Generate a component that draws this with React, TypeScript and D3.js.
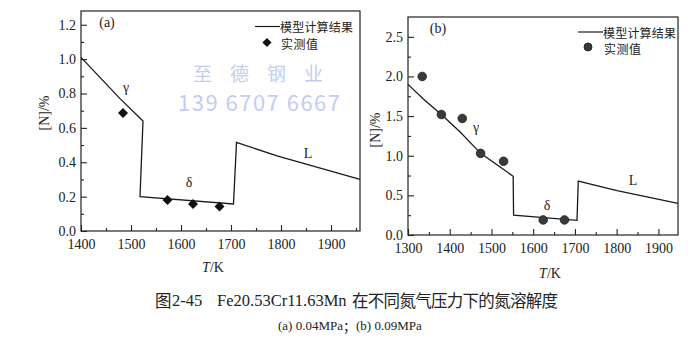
import * as d3 from "d3";
import React, { useRef, useEffect } from "react";

// (a) 0.04 MPa - model curve and measured points
const tempA = [1400, 1478, 1524, 1518, 1705, 1711, 1792, 1958];
const calcA = [1.01, 0.77, 0.64, 0.2, 0.157, 0.515, 0.437, 0.3];
const measTempA = [1484, 1573, 1624, 1677];
const measA = [0.686, 0.18, 0.157, 0.142];
const xTicksA = [1400, 1500, 1600, 1700, 1800, 1900];
const yTicksA = [0, 0.2, 0.4, 0.6, 0.8, 1.0, 1.2];

// (b) 0.09 MPa
const tempB = [1300, 1340, 1380, 1425, 1474, 1531, 1552, 1553, 1705, 1708, 1801, 1947];
const calcB = [1.9, 1.7, 1.52, 1.3, 1.03, 0.82, 0.74, 0.25, 0.185, 0.68, 0.56, 0.4];
const measTempB = [1334, 1380, 1430, 1474, 1529, 1624, 1675];
const measB = [2.0, 1.52, 1.47, 1.03, 0.93, 0.19, 0.19];
const xTicksB = [1300, 1400, 1500, 1600, 1700, 1800, 1900];
const yTicksB = [0, 0.5, 1.0, 1.5, 2.0, 2.5];

const legendLine = "模型计算结果";
const legendPoint = "实测值";

const serif = "'Liberation Serif', 'Times New Roman', serif";
const cjk = "'Noto Sans CJK SC', sans-serif";

const drawPanel = (svg, p) => {
  const g = svg.append("g");
  const x = d3.scaleLinear().domain(p.xDomain).range(p.xRange);
  const y = d3.scaleLinear().domain(p.yDomain).range(p.yRange);
  const [x0, x1] = p.xRange;
  const [y0, y1] = p.yRange;

  // frame
  g.append("rect")
    .attr("x", x0)
    .attr("y", y1)
    .attr("width", x1 - x0)
    .attr("height", y0 - y1)
    .attr("fill", "none")
    .attr("stroke", "#222")
    .attr("stroke-width", 1.2);

  // ticks point inward
  const styleAxis = (sel) => {
    sel.attr("font-family", serif).attr("font-size", 14);
    sel.select(".domain").remove();
    sel.selectAll(".tick line").attr("stroke", "#222").attr("stroke-width", 1.1);
    sel.selectAll("text").attr("fill", "#222");
  };

  g.append("g")
    .attr("transform", `translate(0,${y0})`)
    .call(d3.axisBottom(x).tickValues(p.xMinor).tickSize(-3).tickFormat(() => ""))
    .call(styleAxis);
  g.append("g")
    .attr("transform", `translate(0,${y0})`)
    .call(d3.axisBottom(x).tickValues(p.xTicks).tickSize(-6).tickPadding(8).tickFormat(d3.format("d")))
    .call(styleAxis);
  g.append("g")
    .attr("transform", `translate(${x0},0)`)
    .call(d3.axisLeft(y).tickValues(p.yMinor).tickSize(-3).tickFormat(() => ""))
    .call(styleAxis);
  g.append("g")
    .attr("transform", `translate(${x0},0)`)
    .call(d3.axisLeft(y).tickValues(p.yTicks).tickSize(-6).tickPadding(5).tickFormat(d3.format(".1f")))
    .call(styleAxis);

  // model line
  const pts = p.temps.map((t, i) => [t, p.calc[i]]);
  g.append("path")
    .datum(pts)
    .attr("d", d3.line().x((d) => x(d[0])).y((d) => y(d[1])))
    .attr("fill", "none")
    .attr("stroke", "#1a1a1a")
    .attr("stroke-width", 1.3);

  // measured points
  const meas = p.measTemps.map((t, i) => [t, p.meas[i]]);
  if (p.marker === "diamond") {
    g.selectAll(".pt")
      .data(meas)
      .enter()
      .append("path")
      .attr("d", d3.symbol(d3.symbolSquare, 50)())
      .attr("transform", (d) => `translate(${x(d[0])},${y(d[1])}) rotate(45)`)
      .attr("fill", "#111");
  } else {
    g.selectAll(".pt")
      .data(meas)
      .enter()
      .append("circle")
      .attr("cx", (d) => x(d[0]))
      .attr("cy", (d) => y(d[1]))
      .attr("r", 4.3)
      .attr("fill", "#3a3a3a")
      .attr("stroke", "#1a1a1a")
      .attr("stroke-width", 0.8);
  }

  const label = (tx, ty, s, size = 14) =>
    g.append("text")
      .attr("x", tx)
      .attr("y", ty)
      .attr("text-anchor", "middle")
      .attr("dominant-baseline", "central")
      .attr("font-family", serif)
      .attr("font-size", size)
      .attr("fill", "#222")
      .text(s);

  label(p.tag[0], p.tag[1], p.tag[2]);
  p.phases.forEach((ph) => label(ph[0], ph[1], ph[2], 14));

  // axis titles
  g.append("text")
    .attr("transform", `translate(${p.yTitle[0]},${p.yTitle[1]}) rotate(-90)`)
    .attr("text-anchor", "middle")
    .attr("dominant-baseline", "central")
    .attr("font-family", serif)
    .attr("font-size", 14)
    .attr("fill", "#222")
    .text("[N]/%");
  const xt = g.append("text")
    .attr("x", p.xTitle[0])
    .attr("y", p.xTitle[1])
    .attr("text-anchor", "middle")
    .attr("dominant-baseline", "central")
    .attr("font-family", serif)
    .attr("font-size", 14)
    .attr("fill", "#222");
  xt.append("tspan").attr("font-style", "italic").text("T");
  xt.append("tspan").text("/K");

  // legend
  const lg = p.legend;
  g.append("line")
    .attr("x1", lg.x)
    .attr("x2", lg.x + 25)
    .attr("y1", lg.y)
    .attr("y2", lg.y)
    .attr("stroke", "#1a1a1a")
    .attr("stroke-width", 1.2);
  g.append("text")
    .attr("x", lg.x + 25)
    .attr("y", lg.y)
    .attr("dominant-baseline", "central")
    .attr("font-family", cjk)
    .attr("font-size", 12)
    .attr("textLength", 73)
    .attr("fill", "#222")
    .text(legendLine);
  if (p.marker === "diamond") {
    g.append("path")
      .attr("d", d3.symbol(d3.symbolSquare, 42)())
      .attr("transform", `translate(${lg.x + 12},${lg.y + 16}) rotate(45)`)
      .attr("fill", "#111");
  } else {
    g.append("circle")
      .attr("cx", lg.x + 10)
      .attr("cy", lg.y + 15)
      .attr("r", 4)
      .attr("fill", "#3a3a3a")
      .attr("stroke", "#1a1a1a")
      .attr("stroke-width", 0.8);
  }
  g.append("text")
    .attr("x", lg.x + 26)
    .attr("y", lg.y + 16.5)
    .attr("dominant-baseline", "central")
    .attr("font-family", cjk)
    .attr("font-size", 12)
    .attr("textLength", 37)
    .attr("fill", "#222")
    .text(legendPoint);
};

const App = () => {
  const svgRef = useRef(null);

  useEffect(() => {
    const svg = d3.select(svgRef.current);
    svg.selectAll("*").remove();

    svg.append("rect").attr("width", 700).attr("height", 361).attr("fill", "#fff");

    // watermark sits behind the plots
    svg.append("text")
      .attr("x", 193)
      .attr("y", 72)
      .attr("dominant-baseline", "central")
      .attr("font-family", cjk)
      .attr("font-size", 19)
      .attr("textLength", 130)
      .attr("fill", "#c3cdf0")
      .text("至 德 钢 业");
    svg.append("text")
      .attr("x", 178)
      .attr("y", 101)
      .attr("dominant-baseline", "central")
      .attr("font-family", cjk)
      .attr("font-size", 22)
      .attr("textLength", 162)
      .attr("fill", "#c3cdf0")
      .text("139 6707 6667");

    drawPanel(svg, {
      xDomain: [1400, 1958],
      xRange: [81, 360],
      yDomain: [0, 1.28],
      yRange: [231, 11],
      xTicks: xTicksA,
      yTicks: yTicksA,
      xMinor: d3.range(1450, 1958, 100),
      yMinor: d3.range(0.1, 1.28, 0.2),
      temps: tempA,
      calc: calcA,
      measTemps: measTempA,
      meas: measA,
      marker: "diamond",
      tag: [107, 22, "(a)"],
      phases: [
        [126, 87, "γ"],
        [189, 182, "δ"],
        [308, 153, "L"],
      ],
      yTitle: [44, 113],
      xTitle: [213, 267],
      legend: { x: 255, y: 26.5 },
    });

    drawPanel(svg, {
      xDomain: [1300, 1947],
      xRange: [408, 678],
      yDomain: [0, 2.75],
      yRange: [235, 17],
      xTicks: xTicksB,
      yTicks: yTicksB,
      xMinor: d3.range(1350, 1947, 100),
      yMinor: d3.range(0.25, 2.75, 0.5),
      temps: tempB,
      calc: calcB,
      measTemps: measTempB,
      meas: measB,
      marker: "circle",
      tag: [438, 28, "(b)"],
      phases: [
        [476, 127, "γ"],
        [547, 205, "δ"],
        [633, 180, "L"],
      ],
      yTitle: [375, 130],
      xTitle: [550, 273],
      legend: { x: 578, y: 32 },
    });

    // caption, Latin parts in serif, Chinese parts in CJK font
    const cap = svg.append("text")
      .attr("y", 300)
      .attr("dominant-baseline", "central")
      .attr("font-size", 16.5)
      .attr("fill", "#222");
    cap.append("tspan").attr("x", 155).attr("font-family", cjk).text("图");
    cap.append("tspan").attr("x", 172).attr("font-family", serif).text("2-45");
    cap.append("tspan").attr("x", 217).attr("font-family", serif).text("Fe20.53Cr11.63Mn");
    cap.append("tspan")
      .attr("x", 352)
      .attr("font-family", cjk)
      .attr("textLength", 206)
      .text("在不同氮气压力下的氮溶解度");

    const sub = svg.append("text")
      .attr("y", 325)
      .attr("dominant-baseline", "central")
      .attr("font-size", 13)
      .attr("fill", "#222");
    sub.append("tspan").attr("x", 278).attr("font-family", serif).text("(a) 0.04MPa");
    sub.append("tspan").attr("font-family", cjk).text("；");
    sub.append("tspan").attr("font-family", serif).text("(b) 0.09MPa");
  }, []);

  return (
    <div style={{ position: "fixed", left: 0, top: 0 }}>
      <svg ref={svgRef} width={700} height={361} style={{ display: "block" }}></svg>
    </div>
  );
};

export default App;
